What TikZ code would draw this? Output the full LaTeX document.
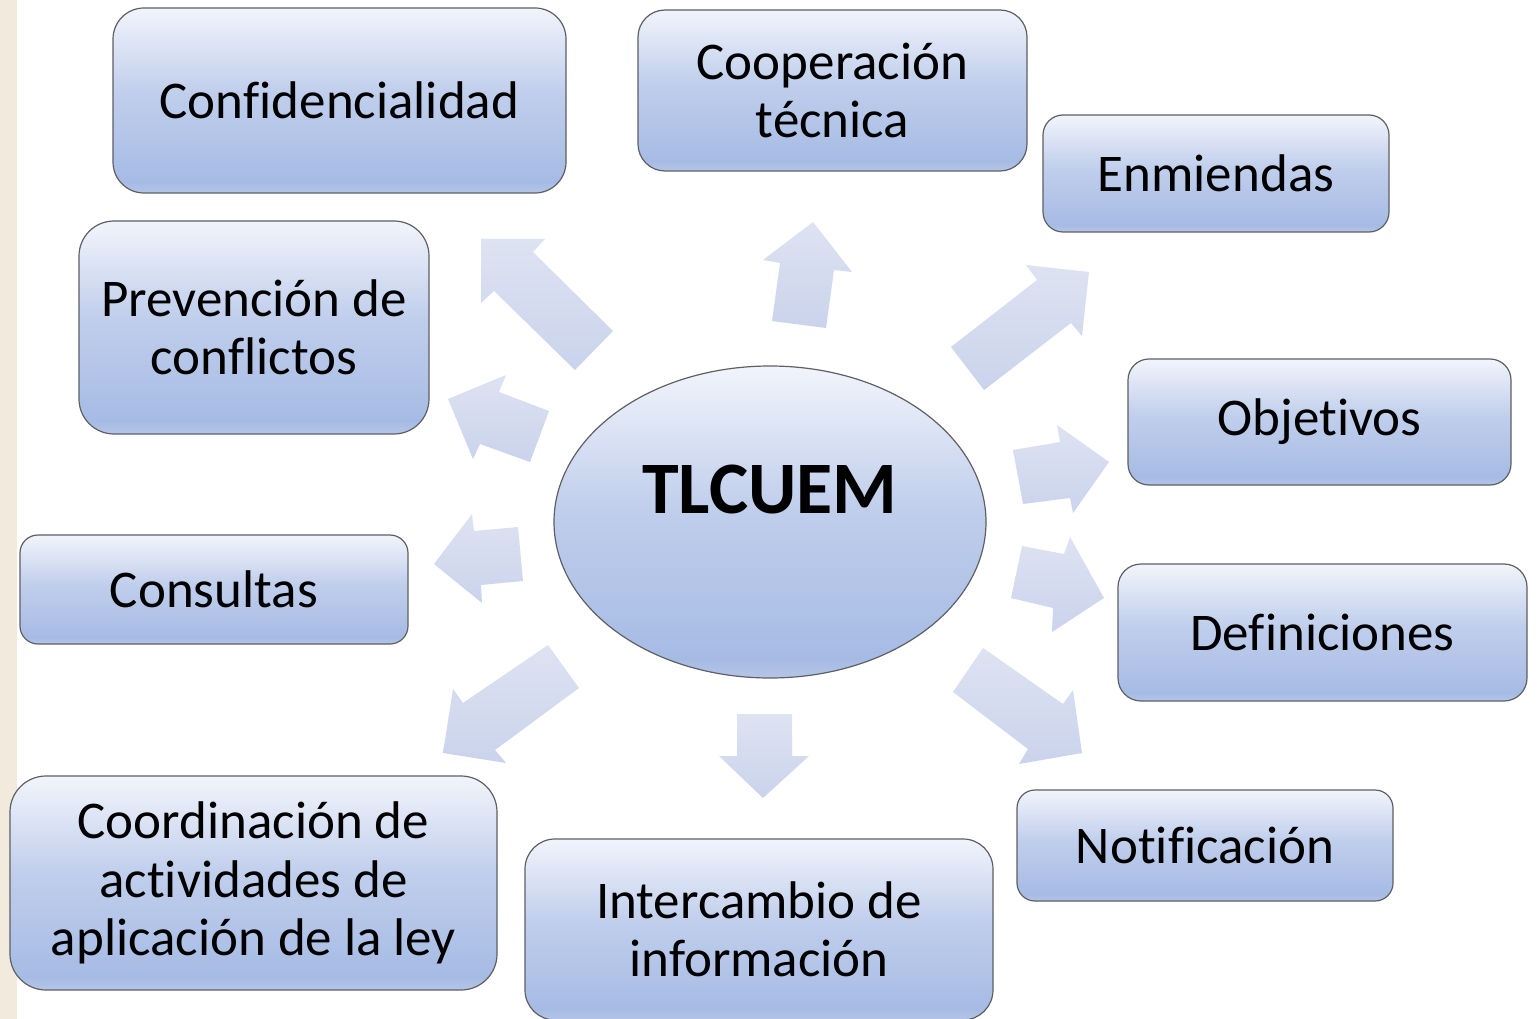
\documentclass[tikz,border=0pt]{standalone}
\usepackage{fontspec}
\setmainfont{Carlito}[Ligatures=NoCommon]
\usetikzlibrary{shapes.geometric}
\definecolor{shA}{RGB}{181,197,231}
\definecolor{shB}{RGB}{166,187,228}
\definecolor{shC}{RGB}{192,206,236}
\definecolor{shD}{RGB}{241,244,251}
\definecolor{boxline}{RGB}{95,95,100}
\definecolor{arrtop}{RGB}{222,227,242}
\definecolor{arrbot}{RGB}{202,211,236}
\definecolor{beige}{RGB}{241,234,221}
\pgfdeclareverticalshading{boxshade}{100bp}{color(0bp)=(shA); color(25bp)=(shA); color(28bp)=(shB); color(52bp)=(shC); color(75bp)=(shD); color(100bp)=(shD)}
\tikzset{
  box/.style={draw=boxline, line width=1.2pt, shading=boxshade, align=center,
    font=\fontsize{53}{58.5}\selectfont, inner sep=0pt},
  blockarrow/.style={top color=arrtop, bottom color=arrbot, draw=none}
}
\begin{document}
\begin{tikzpicture}[x=1pt,y=-1pt]
\useasboundingbox (0,0) rectangle (1537,1019);
\fill[white] (0,0) rectangle (1537,1019);
\fill[beige] (0,0) rectangle (17,1019);

% block arrows
\path[blockarrow] (481,239) -- (545,239) -- (533,252) -- (613,331) -- (575,370) -- (494,291) -- (481,303) -- cycle;
\path[blockarrow] (813,222) -- (852,272) -- (834,270) -- (826,328) -- (772,321) -- (780,263) -- (763,260) -- cycle;
\path[blockarrow] (1089,272) -- (1082,336) -- (1071,323) -- (984,390) -- (951,347) -- (1037,280) -- (1026,265) -- cycle;
\path[blockarrow] (448,399) -- (506,375) -- (499,392) -- (549,411) -- (530,462) -- (480,444) -- (473,459) -- cycle;
\path[blockarrow] (434,564) -- (472,514) -- (474,531) -- (518,527) -- (523,581) -- (481,585) -- (482,603) -- cycle;
\path[blockarrow] (1109,462) -- (1073,513) -- (1070,498) -- (1023,504) -- (1013,450) -- (1060,442) -- (1057,425) -- cycle;
\path[blockarrow] (1104,598) -- (1052,632) -- (1053,608) -- (1011,598) -- (1022,546) -- (1064,554) -- (1070,537) -- cycle;
\path[blockarrow] (443,753) -- (453,689) -- (463,703) -- (548,645) -- (579,688) -- (495,750) -- (506,763) -- cycle;
\path[blockarrow] (763,798) -- (719,756) -- (737,756) -- (737,714) -- (792,714) -- (792,756) -- (809,756) -- cycle;
\path[blockarrow] (1082,753) -- (1019,764) -- (1028,749) -- (953,692) -- (983,648) -- (1063,704) -- (1073,690) -- cycle;

% centre
\node (tlc) [ellipse, draw=boxline, line width=1.2pt, shading=boxshade, minimum width=432pt, minimum height=312pt, inner sep=0pt] at (770,522) {};
\node (tlclabel) at (770,490) {\fontsize{74}{80}\selectfont\bfseries TLCUEM};

% boxes
\node (conf) [box, minimum width=453pt, minimum height=185pt, rounded corners=31pt] at (339.5,100.5) {Confidencialidad};
\node (coop) [box, minimum width=389pt, minimum height=161pt, rounded corners=27pt] at (832.5,90.5) {Cooperación\\técnica};
\node (enm) [box, minimum width=346pt, minimum height=117pt, rounded corners=20pt] at (1216,173.5) {Enmiendas};
\node (prev) [box, minimum width=350pt, minimum height=213pt, rounded corners=35pt] at (254,327.5) {Prevención de\\conflictos};
\node (obj) [box, minimum width=383pt, minimum height=126pt, rounded corners=21pt] at (1319.5,422) {Objetivos};
\node (defi) [box, minimum width=409pt, minimum height=137pt, rounded corners=23pt] at (1322.5,632.5) {Definiciones};
\node (cons) [box, minimum width=388pt, minimum height=109pt, rounded corners=18pt] at (214,589.5) {Consultas};
\node (coord) [box, minimum width=487pt, minimum height=214pt, rounded corners=36pt] at (253.5,883) {Coordinación de\\actividades de\\aplicación de la ley};
\node (inter) [box, minimum width=468pt, minimum height=181pt, rounded corners=30pt] at (759,929.5) {Intercambio de\\información};
\node (notif) [box, minimum width=376pt, minimum height=111pt, rounded corners=18pt] at (1205,845.5) {Notificación};
\end{tikzpicture}
\end{document}
